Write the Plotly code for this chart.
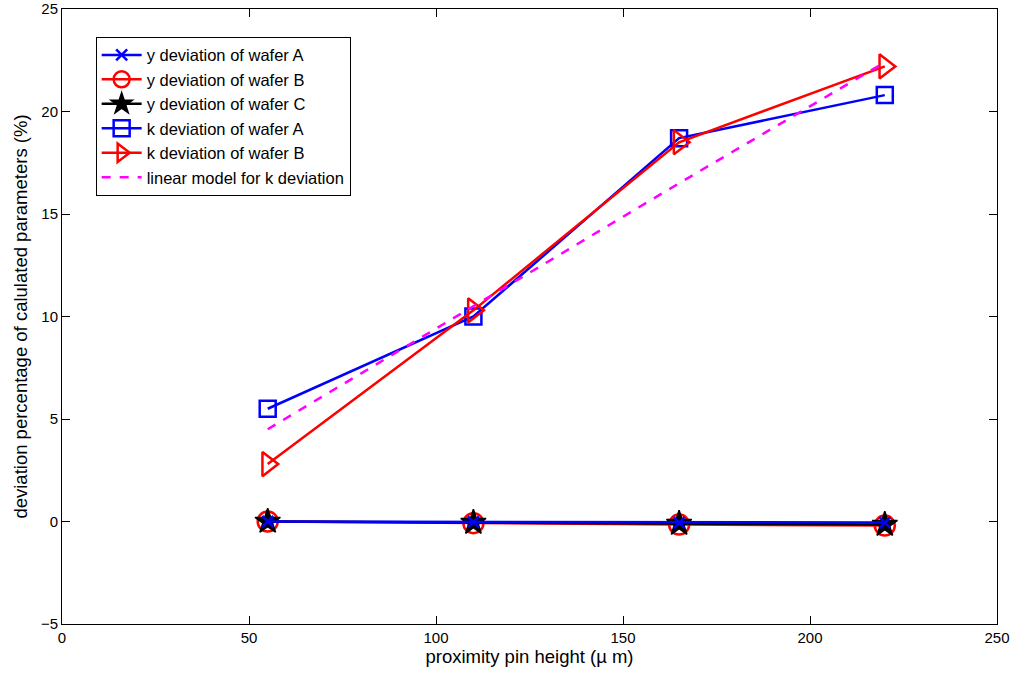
import plotly.graph_objects as go

# proximity pin heights (µm)
pin_height = [55, 110, 165, 220]

# deviation percentages (%)
y_dev_a = [0.0, -0.02, -0.05, -0.05]
y_dev_b = [0.0, -0.08, -0.15, -0.2]
y_dev_c = [0.0, -0.05, -0.1, -0.15]
k_dev_a = [5.5, 10.0, 18.7, 20.8]
k_dev_b = [2.8, 10.3, 18.5, 22.2]
k_linear = [4.5, 10.5, 16.5, 22.4]

x_ticks = [0, 50, 100, 150, 200, 250]
y_ticks = [-5, 0, 5, 10, 15, 20, 25]

BLUE = "rgb(0,0,255)"
RED = "rgb(255,0,0)"
BLACK = "rgb(0,0,0)"
MAGENTA = "rgb(255,0,255)"

fig = go.Figure()

def series(y, name, color, symbol, size, lw=2.5):
    fig.add_trace(go.Scatter(
        x=pin_height, y=y, name=name, mode="lines+markers",
        line=dict(color=color, width=2.5),
        marker=dict(symbol=symbol, size=size, color=color,
                    line=dict(color=color, width=lw)),
    ))

series(k_dev_a, "k deviation of wafer A", BLUE, "square-open", 16)
series(k_dev_b, "k deviation of wafer B", RED, "triangle-right-open", 21)
series(y_dev_b, "y deviation of wafer B", RED, "circle-open", 20)
series(y_dev_c, "y deviation of wafer C", BLACK, "star", 19, lw=1.5)
series(y_dev_a, "y deviation of wafer A", BLUE, "x-thin-open", 11, lw=2.5)
fig.add_trace(go.Scatter(
    x=pin_height, y=k_linear, name="linear model for k deviation", mode="lines",
    line=dict(color=MAGENTA, width=2.5, dash="dash"),
))

# legend order
order = ["y deviation of wafer A", "y deviation of wafer B", "y deviation of wafer C",
         "k deviation of wafer A", "k deviation of wafer B", "linear model for k deviation"]
for tr in fig.data:
    tr.legendrank = order.index(tr.name) + 1

axis_common = dict(
    showgrid=False, zeroline=False, showline=True, linecolor="black", linewidth=1,
    mirror="ticks", ticks="inside", ticklen=8, tickcolor="black",
    tickfont=dict(size=15, color="black"), automargin=False,
)

fig.update_layout(
    width=1018, height=675,
    margin=dict(l=62, r=21, t=9, b=51),
    paper_bgcolor="white", plot_bgcolor="white",
    font=dict(family="Liberation Sans, Arial, sans-serif", size=15, color="black"),
    xaxis=dict(range=[0, 250], tickvals=x_ticks,
               title=dict(text="proximity pin height (µ m)", standoff=2, font=dict(size=18.5)),
               **axis_common),
    yaxis=dict(range=[-5, 25], tickvals=y_ticks, ticktext=["\u22125", "0", "5", "10", "15", "20", "25"],
               title=dict(text="deviation percentage of calulated parameters (%)", standoff=8,
                          font=dict(size=18.5)),
               **axis_common),
    legend=dict(x=0.036, y=0.955, xanchor="left", yanchor="top",
                bordercolor="black", borderwidth=1, bgcolor="white",
                font=dict(size=16.5), tracegroupgap=0, itemwidth=40),
)

fig.write_html("out.html")
